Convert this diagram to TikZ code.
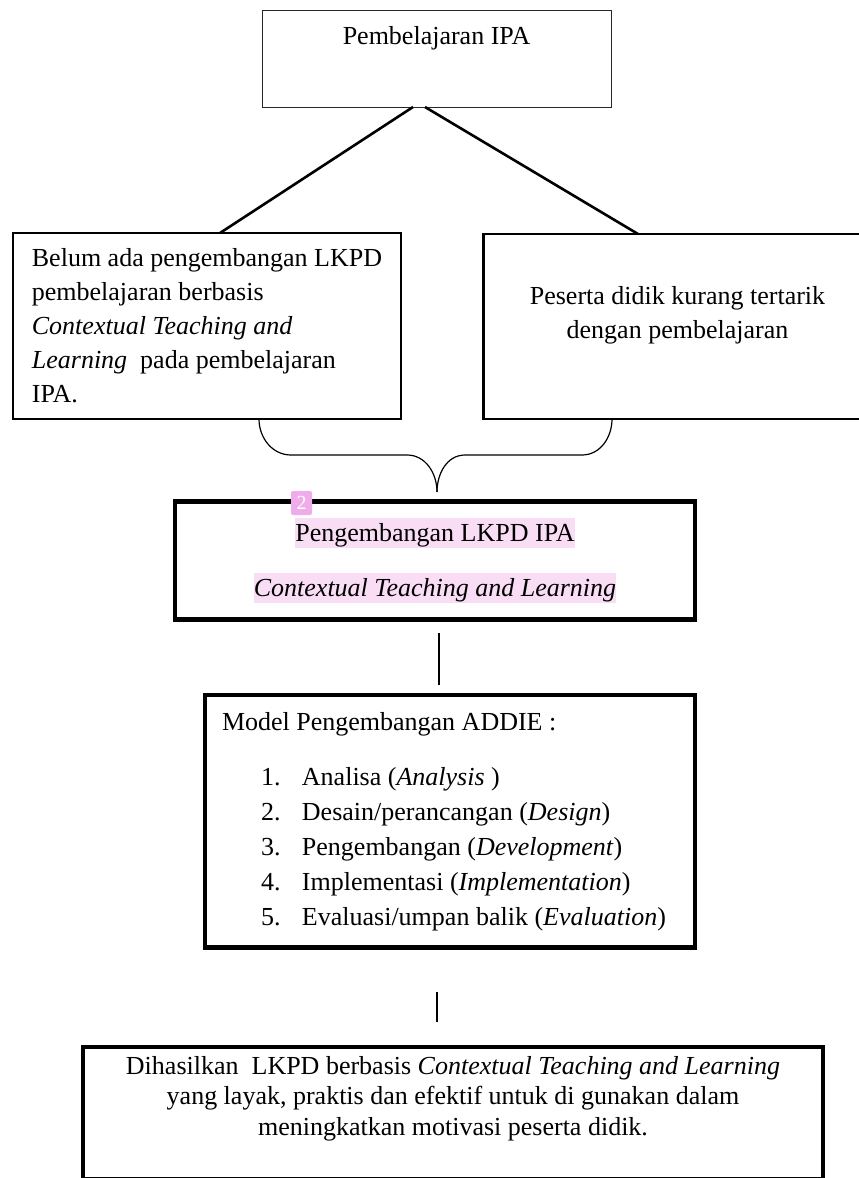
\documentclass[tikz,border=0pt]{standalone}
\usepackage{fontspec}
\setmainfont{Liberation Serif}
\usetikzlibrary{positioning}

\definecolor{hlpink}{RGB}{249,221,245}
\definecolor{notepink}{RGB}{240,172,234}
\newcommand{\hilite}[1]{{\setlength{\fboxsep}{0pt}\colorbox{hlpink}{\rule[-7pt]{0pt}{30pt}#1}}}

\begin{document}
\begin{tikzpicture}[x=1pt, y=1pt, node distance=1cm,
    every node/.style={font=\fontsize{26}{34}\selectfont, outer sep=0pt},
    thinbox/.style={draw=black!85, line width=1pt, minimum width=349pt},
    midbox/.style={draw, line width=2.6pt},
    thickbox/.style={draw, line width=4.8pt},
    link/.style={line width=2.6pt},
    bar/.style={line width=1.2pt},
    marker/.style={fill=notepink, rounded corners=2pt, text=white, minimum width=21pt, minimum height=24pt, inner sep=0pt, font=\fontsize{20}{20}\selectfont}]

        \useasboundingbox (0,0) rectangle (859,-1178);

        % pembelajaran
        \node[thinbox, text height=34pt, text depth=63pt, inner ysep=0pt] (ipa) at (436.5,-58.5) {Pembelajaran IPA};

        % masalah
        \node[midbox, align=left, minimum width=388pt, minimum height=186pt] (belum) [below = 126pt of ipa, xshift=-229.5pt]
        {Belum ada pengembangan LKPD\\ pembelajaran berbasis\\ \textit{Contextual Teaching and}\\ \textit{Learning}\ \ pada pembelajaran\\ IPA.};
        \node[midbox, align=center, minimum width=388pt, minimum height=185pt] (peserta) [below = 127pt of ipa, xshift=241pt]
        {Peserta didik kurang tertarik\\ dengan pembelajaran\rule[-29pt]{0pt}{29pt}};

        % pengembangan
        \node[thickbox, align=center, minimum width=520pt, minimum height=118pt] (pengembangan) [below = 394.5pt of ipa, xshift=-1.5pt]
        {\hilite{Pengembangan LKPD IPA}\\[21pt] \hilite{\textit{Contextual Teaching and Learning}}};
        \node[marker] (note) at ([shift={(126.5pt,-1.5pt)}]pengembangan.north west) {2};
        \coordinate[above = 9.5pt of pengembangan.north, xshift=2pt] (tip);

        % addie
        \node[thickbox, align=flush left, text width=456pt, inner xsep=17pt, minimum height=252.5pt, font=\fontsize{26}{35}\selectfont] (addie) [below = 75.5pt of pengembangan, xshift=15pt]
        {Model Pengembangan ADDIE :\\[20pt]
        \hspace*{39pt}\makebox[41pt][l]{1.}Analisa (\textit{Analysis} )\\
        \hspace*{39pt}\makebox[41pt][l]{2.}Desain/perancangan (\textit{Design})\\
        \hspace*{39pt}\makebox[41pt][l]{3.}Pengembangan (\textit{Development})\\
        \hspace*{39pt}\makebox[41pt][l]{4.}Implementasi (\textit{Implementation})\\
        \hspace*{39pt}\makebox[41pt][l]{5.}Evaluasi/umpan balik (\textit{Evaluation})};

        % hasil
        \node[thickbox, align=center, minimum width=740pt, inner ysep=9pt, font=\fontsize{26}{30.5}\selectfont] (hasil) [below = 99.5pt of addie, xshift=3pt]
        {Dihasilkan\ \ LKPD berbasis \textit{Contextual Teaching and Learning}\\
        yang layak, praktis dan efektif untuk di gunakan dalam\\
        meningkatkan motivasi peserta didik.\rule[-35pt]{0pt}{35pt}};

        % paths
        \draw[link] ([xshift=-23.5pt]ipa.south) -- ([xshift=13pt]belum.north);
        \draw[link] ([xshift=-11.5pt]ipa.south) -- ([xshift=-39.5pt]peserta.north);

        % brace
        \draw[bar] (tip) to[out=90,in=0] ++(-30pt,37pt) -- ++(-116pt,0pt) to[out=180,in=-90] ++(-32pt,36pt);
        \draw[bar] (tip) to[out=90,in=180] ++(28pt,37pt) -- ++(117pt,0pt) to[out=0,in=-90] ++(30pt,36pt);

        % vertical paths
        \draw[bar] ([shift={(4pt,-13.5pt)}]pengembangan.south) -- ([shift={(-11pt,10.5pt)}]addie.north);
        \draw[bar] ([shift={(-13pt,-44pt)}]addie.south) -- ([shift={(-16pt,25.5pt)}]hasil.north);

    \end{tikzpicture}
\end{document}
